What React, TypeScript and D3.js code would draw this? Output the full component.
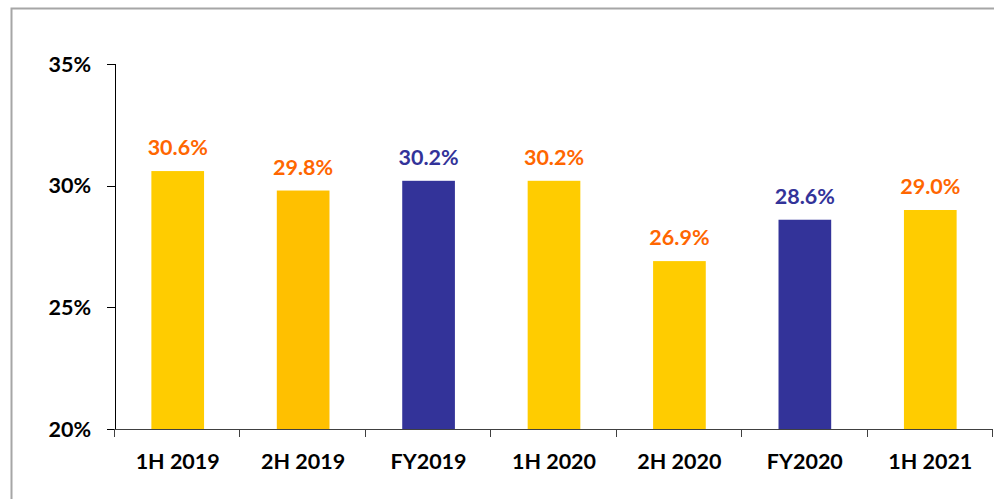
import React from "react";
import * as d3 from "d3";

const categories = ["1H 2019", "2H 2019", "FY2019", "1H 2020", "2H 2020", "FY2020", "1H 2021"];
const values = [30.6, 29.8, 30.2, 30.2, 26.9, 28.6, 29.0];
const barColors = ["#FFCC00", "#FFC000", "#333399", "#FFCC00", "#FFCC00", "#333399", "#FFCC00"];
const labelColors = ["#FF6600", "#FF6600", "#333399", "#FF6600", "#FF6600", "#333399", "#FF6600"];
const yTicks = [20, 25, 30, 35];

const W = 994;
const H = 499;
const FONT = "Lato, 'Open Sans', sans-serif";

export default function App() {
  const x = d3.scaleBand<string>().domain(categories).range([115, 993]).paddingInner(0.58).paddingOuter(0.29);
  const band = d3.scaleBand<string>().domain(categories).range([115, 993]);
  const y = d3.scaleLinear().domain([20, 35]).range([429, 64]);
  return (
    <svg width={W} height={H} style={{ position: "absolute", left: 0, top: 0, background: "#fff" }}>
      <rect x={11.5} y={8.5} width={W} height={H} fill="none" stroke="#A6A6A6" strokeWidth={2} />
      {categories.map((c, i) => (
        <rect key={c} x={x(c)} y={y(values[i])} width={x.bandwidth()} height={y(20) - y(values[i])} fill={barColors[i]} />
      ))}
      <line x1={115.5} x2={115.5} y1={64} y2={429} stroke="#000" strokeWidth={1} />
      {yTicks.map((t) => (
        <g key={t}>
          <line x1={107} x2={115.5} y1={Math.round(y(t)) + 0.5} y2={Math.round(y(t)) + 0.5} stroke="#000" />
          <text x={91} y={y(t) + 7.5} textAnchor="end" fontFamily={FONT} fontWeight={700} fontSize={21.5} fill="#000">
            {t}%
          </text>
        </g>
      ))}
      <line x1={115} x2={993} y1={429.5} y2={429.5} stroke="#404040" />
      {[...categories.map((c) => band(c) as number), 993].map((px, i) => (
        <line key={i} x1={Math.round(px) - 0.5} x2={Math.round(px) - 0.5} y1={429} y2={437} stroke="#404040" />
      ))}
      {categories.map((c) => (
        <text key={c} x={(band(c) as number) + band.bandwidth() / 2} y={469} textAnchor="middle" fontFamily={FONT} fontWeight={700} fontSize={21.5} fill="#000">
          {c}
        </text>
      ))}
      {categories.map((c, i) => (
        <text key={c} x={(x(c) as number) + x.bandwidth() / 2} y={y(values[i]) - 16} textAnchor="middle" fontFamily={FONT} fontWeight={700} fontSize={21.5} fill={labelColors[i]}>
          {values[i].toFixed(1)}%
        </text>
      ))}
    </svg>
  );
}
